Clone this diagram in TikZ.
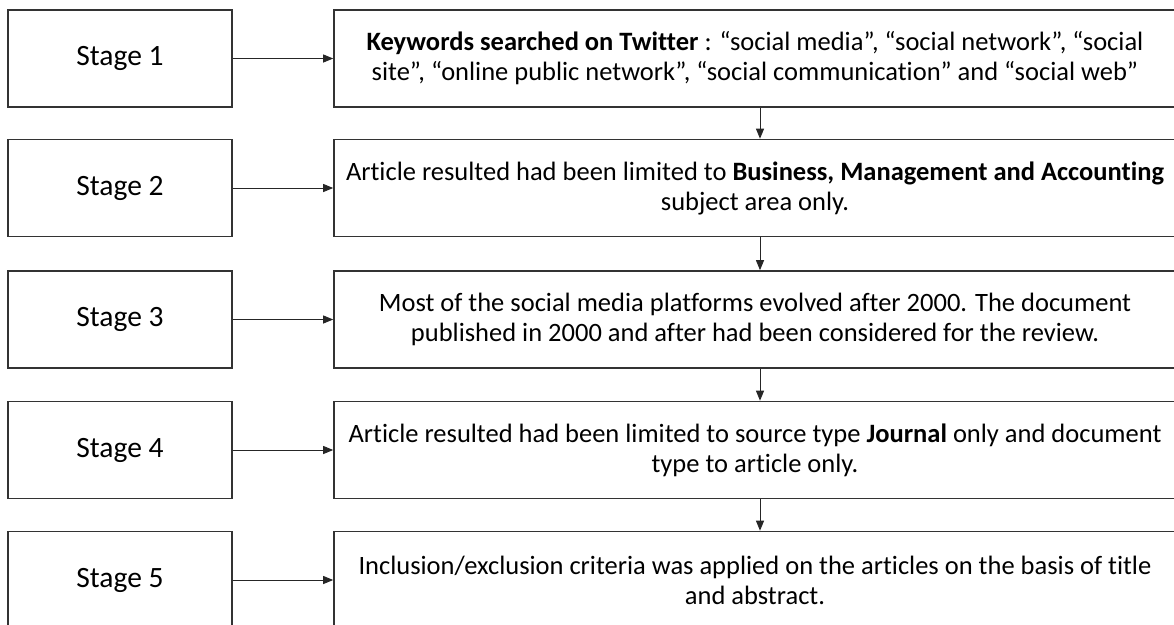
\documentclass[tikz,border=0pt]{standalone}
\usepackage{fontspec}
\setmainfont[Ligatures=NoCommon]{Carlito}
\usetikzlibrary{arrows.meta}
\begin{document}
\begin{tikzpicture}[x=1pt,y=-1pt,
  stagebox/.style={draw=black!80,line width=1.6pt,minimum width=224pt,minimum height=97pt,inner sep=0pt,font=\fontsize{29.5}{35}\selectfont},
  descbox/.style={draw=black!80,line width=1.6pt,minimum width=842pt,minimum height=97pt,inner sep=0pt,align=center,font=\fontsize{26.5}{30}\selectfont,execute at begin node={\rule{0pt}{24pt}}},
  conn/.style={draw=black!85,line width=0.9pt,-{Triangle[length=10pt,width=8pt]}}]
\clip (0,0) rectangle (1174,624);
\useasboundingbox (0,0) rectangle (1174,624);
\node[stagebox] (s1) at (120,58.5) {Stage 1};
\node[stagebox] (s2) at (120,188) {Stage 2};
\node[stagebox] (s3) at (120,319.5) {Stage 3};
\node[stagebox] (s4) at (120,450) {Stage 4};
\node[stagebox] (s5) at (120,580) {Stage 5};
\node[descbox] (r1) at (755,58.5) {\textbf{Keywords searched on Twitter} : “social media”, “social network”, “social\\site”, “online public network”, “social communication” and “social web”};
\node[descbox] (r2) at (755,188) {Article resulted had been limited to \textbf{Business, Management and Accounting}\\subject area only.};
\node[descbox] (r3) at (755,319.5) {Most of the social media platforms evolved after 2000. The document\\published in 2000 and after had been considered for the review.};
\node[descbox] (r4) at (755,450) {Article resulted had been limited to source type \textbf{Journal} only and document\\type to article only.};
\node[descbox] (r5) at (755,580) {Inclusion/exclusion criteria was applied on the articles on the basis of title\\and abstract.};
\coordinate (ax) at (760,0);
\foreach \i in {1,...,5}{\draw[conn] (s\i.east) -- (r\i.west);}
\draw[conn] (r1.south -| ax) -- (r2.north -| ax);
\draw[conn] (r2.south -| ax) -- (r3.north -| ax);
\draw[conn] (r3.south -| ax) -- (r4.north -| ax);
\draw[conn] (r4.south -| ax) -- (r5.north -| ax);
\end{tikzpicture}
\end{document}
